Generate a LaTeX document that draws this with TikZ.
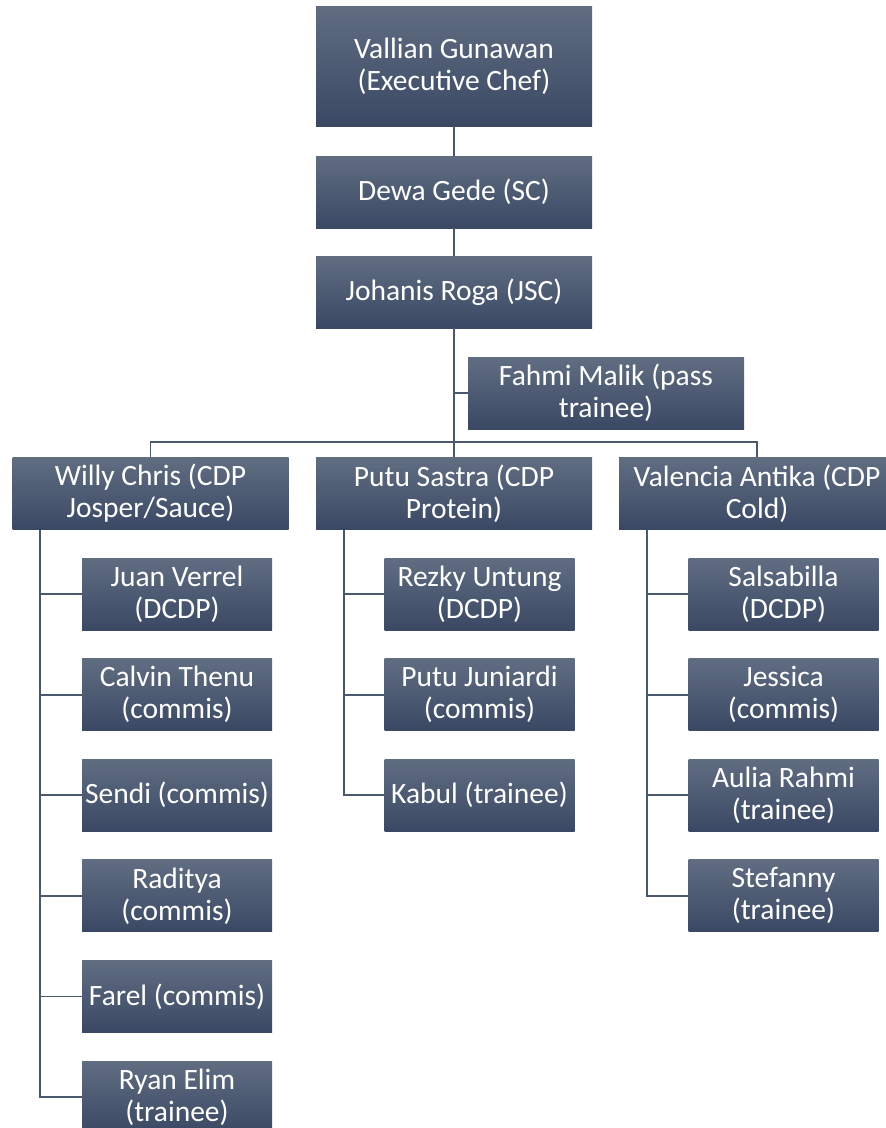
\documentclass[tikz,border=0pt]{standalone}
\usepackage{fontspec}
\setmainfont{Carlito}
\usetikzlibrary{positioning}
\definecolor{boxtop}{RGB}{96,109,129}
\definecolor{boxmid}{RGB}{68,82,108}
\definecolor{boxbot}{RGB}{58,72,100}
\definecolor{linkcol}{RGB}{74,88,110}
\tikzset{
  every node/.style={
    top color=boxtop,
    middle color=boxmid,
    bottom color=boxbot,
    text=white,
    align=center,
    inner sep=0pt,
    font=\fontsize{29.5}{32}\selectfont
  },
  head/.style={minimum width=276pt, minimum height=72pt},
  staff/.style={minimum width=190pt, minimum height=72pt},
  link/.style={draw=linkcol, line width=1.8pt}
}

\begin{document}
\begin{tikzpicture}
        \useasboundingbox (0,0) rectangle (886pt,-1128pt);
        \node [head, minimum height=120pt] (exec) at (454pt,-66pt) {Vallian Gunawan\\(Executive Chef)};
        \node [head, on grid, below=126pt of exec] (dewa) {Dewa Gede (SC)};
        \node [head, on grid, below=100pt of dewa] (johanis) {Johanis Roga (JSC)};
        \node [head, on grid, below right=101pt and 152pt of johanis] (fahmi) {Fahmi Malik (pass\\trainee)};
        \node [head, on grid, below=201.5pt of johanis] (putu) {Putu Sastra (CDP\\Protein)};
        \node [head, on grid, left=303.5pt of putu] (willy) {Willy Chris (CDP\\Josper/Sauce)};
        \node [head, on grid, right=303pt of putu] (valencia) {Valencia Antika (CDP\\Cold)};
        % josper / sauce
        \node [staff, on grid, below right=100.5pt and 26.5pt of willy] (juan) {Juan Verrel\\(DCDP)};
        \node [staff, on grid, below=100.6pt of juan] (calvin) {Calvin Thenu\\(commis)};
        \node [staff, on grid, below=100.6pt of calvin] (sendi) {Sendi (commis)};
        \node [staff, on grid, below=100.6pt of sendi] (raditya) {Raditya\\(commis)};
        \node [staff, on grid, below=100.6pt of raditya] (farel) {Farel (commis)};
        \node [staff, on grid, below=100.6pt of farel] (ryan) {Ryan Elim\\(trainee)};
        % protein
        \node [staff, on grid, below right=100.5pt and 25.5pt of putu] (rezky) {Rezky Untung\\(DCDP)};
        \node [staff, on grid, below=100.6pt of rezky] (juniardi) {Putu Juniardi\\(commis)};
        \node [staff, on grid, below=100.6pt of juniardi] (kabul) {Kabul (trainee)};
        % cold
        \node [staff, on grid, below right=100.5pt and 26.5pt of valencia] (salsa) {Salsabilla\\(DCDP)};
        \node [staff, on grid, below=100.6pt of salsa] (jessica) {Jessica\\(commis)};
        \node [staff, on grid, below=100.6pt of jessica] (aulia) {Aulia Rahmi\\(trainee)};
        \node [staff, on grid, below=100.6pt of aulia] (stefanny) {Stefanny\\(trainee)};
        \draw [link] (exec) -- (dewa);
        \draw [link] (dewa) -- (johanis);
        \draw [link] (johanis) -- (putu);
        \draw [link] (fahmi.west) -- (fahmi.west -| johanis.south);
        \draw [link] (willy.north) -- ++(0,15pt) -| (valencia.north);
        \foreach \c in {juan,calvin,sendi,raditya,farel,ryan}
          \draw [link] ([xshift=28pt]willy.south west) |- (\c.west);
        \foreach \c in {rezky,juniardi,kabul}
          \draw [link] ([xshift=28pt]putu.south west) |- (\c.west);
        \foreach \c in {salsa,jessica,aulia,stefanny}
          \draw [link] ([xshift=28pt]valencia.south west) |- (\c.west);
      \end{tikzpicture}
\end{document}
